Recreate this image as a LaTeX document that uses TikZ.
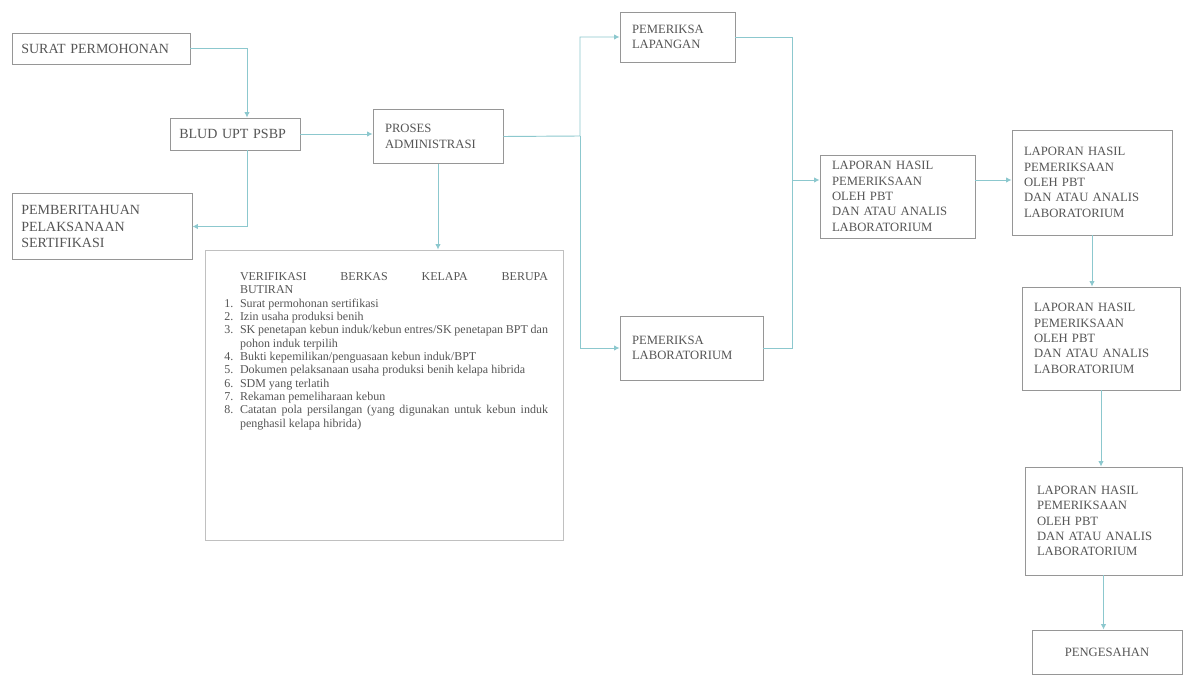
\documentclass[tikz,border=0pt]{standalone}
\usepackage{fontspec}
\setmainfont{Liberation Serif}
\usepackage{enumitem}
\usetikzlibrary{calc, arrows.meta, positioning}

\definecolor{linkcol}{RGB}{140,200,206}
\definecolor{boxcol}{RGB}{150,150,150}
\definecolor{txtcol}{RGB}{85,85,85}

\begin{document}
\begin{tikzpicture}[x=0.75pt, y=-0.75pt, >={Latex[length=4pt,width=4pt]},
    box/.style={draw=boxcol, line width=0.7pt, fill=white, text=txtcol, align=left,
        font=\fontsize{9.5}{11.5}\selectfont, inner xsep=9pt},
    bigtext/.style={font=\fontsize{10.5}{12.5}\selectfont, inner xsep=7pt},
    flow/.style={draw=linkcol, line width=0.7pt, ->},
    link/.style={draw=linkcol, line width=0.7pt}]

% --- CANVAS ---
\fill[white] (0,0) rectangle (1186,677);
\useasboundingbox (0,0) rectangle (1186,677);

% --- 1. LEFT COLUMN (application) ---
\node[box, bigtext, minimum width=133.5pt, minimum height=23.25pt, text width=119.5pt] (surat) at (101,48.5) {SURAT PERMOHONAN};
\node[box, bigtext, minimum width=97.5pt, minimum height=24pt, text width=83.5pt] (blud) at (235,134) {BLUD UPT PSBP};
\node[box, bigtext, minimum width=135pt, minimum height=50pt, text width=121pt] (pemb) at (102,226.5) {PEMBERITAHUAN\\PELAKSANAAN\\SERTIFIKASI};

% --- 2. ADMINISTRATION + CHECKLIST ---
\node[box, minimum width=97.5pt, minimum height=40pt, text width=79.5pt] (proses) at (438,136.5) {PROSES\\ADMINISTRASI};

\node[box, draw=boxcol!60, minimum width=268.5pt, minimum height=217.5pt, text width=246pt, inner xsep=11.25pt,
    font=\fontsize{9}{10}\selectfont, align=justify] (verif) at (384,395) {%
    {\leftskip=15pt VERIFIKASI BERKAS KELAPA BERUPA\linebreak BUTIRAN\par}
    \begin{enumerate}[leftmargin=15pt, nosep, label=\arabic*.]
        \item Surat permohonan sertifikasi
        \item Izin usaha produksi benih
        \item SK penetapan kebun induk/kebun entres/SK penetapan BPT dan pohon induk terpilih
        \item Bukti kepemilikan/penguasaan kebun induk/BPT
        \item Dokumen pelaksanaan usaha produksi benih kelapa hibrida
        \item SDM yang terlatih
        \item Rekaman pemeliharaan kebun
        \item Catatan pola persilangan (yang digunakan untuk kebun induk penghasil kelapa hibrida)
    \end{enumerate}
    \vspace*{66pt}};

% --- 3. INSPECTIONS ---
\node[box, minimum width=86.25pt, minimum height=37.5pt, text width=68.25pt] (lapangan) at (677.5,37) {PEMERIKSA\\LAPANGAN};
\node[box, minimum width=107.25pt, minimum height=48pt, text width=89.25pt] (lab) at (691.5,348) {PEMERIKSA\\LABORATORIUM};

% --- 4. REPORTS (right column) ---
\node[box, minimum width=116.25pt, minimum height=62.25pt, text width=98.25pt] (lap1) at (897.5,196.5) {LAPORAN HASIL\\PEMERIKSAAN\\OLEH PBT\\DAN ATAU ANALIS\\LABORATORIUM};
\node[box, minimum width=120pt, minimum height=78.75pt, text width=102pt] (lap2) at (1092,182.5) {LAPORAN HASIL\\PEMERIKSAAN\\OLEH PBT\\DAN ATAU ANALIS\\LABORATORIUM};
\node[box, minimum width=118.5pt, minimum height=77.25pt, text width=100.5pt] (lap3) at (1101,338.5) {LAPORAN HASIL\\PEMERIKSAAN\\OLEH PBT\\DAN ATAU ANALIS\\LABORATORIUM};
\node[box, minimum width=117.75pt, minimum height=81pt, text width=99.75pt] (lap4) at (1103.5,521) {LAPORAN HASIL\\PEMERIKSAAN\\OLEH PBT\\DAN ATAU ANALIS\\LABORATORIUM};
\node[box, minimum width=112.5pt, minimum height=33pt, text width=94.5pt, align=center] (sah) at (1107,652) {PENGESAHAN};

% --- 5. CONNECTORS ---
\draw[flow] (surat.east) -| ($(blud.north)+(12,0)$);
\draw[flow] ($(blud.south)+(12,0)$) |- (pemb.east);
\draw[flow] (blud.east) -- (blud.east -| proses.west);
\draw[flow] (proses.south) -- (proses.south |- verif.north);

% split to the two inspections
\coordinate (split) at (580,136);
\draw[flow] (proses.east) -- (split) |- (lapangan.west);
\draw[flow] (split) |- (lab.west);

% join back into the first report
\coordinate (join) at (792,180);
\draw[link] (lapangan.east) -| (join |- lab.east) -- (lab.east);
\draw[flow] (join) -- (join -| lap1.west);

\draw[flow] (lap1.east |- join) -- (lap2.west |- join);
\draw[flow] (lap2.south) -- (lap2.south |- lap3.north);
\draw[flow] (lap3.south) -- (lap3.south |- lap4.north);
\draw[flow] (lap4.south) -- (lap4.south |- sah.north);

\end{tikzpicture}
\end{document}
